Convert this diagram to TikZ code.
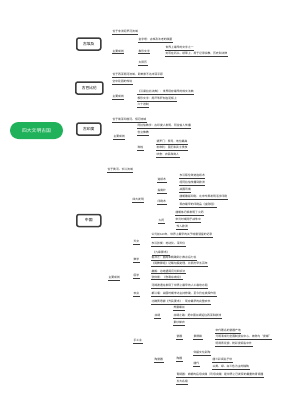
\documentclass[tikz,border=0pt]{standalone}
\usepackage{fontspec}
\setmainfont{Noto Sans CJK SC}
\usetikzlibrary{calc,backgrounds}
\definecolor{rootgreen}{HTML}{1FB25A}
\definecolor{boxline}{HTML}{3C3C3C}
\definecolor{cncol}{HTML}{A8A8A8}
\definecolor{ulcol}{HTML}{3A3A3A}
\tikzset{
 lf/.style={anchor=south west,inner xsep=0.4pt,inner ysep=0.7pt,font=\fontsize{2.8}{3.2}\selectfont,text=black!85},
 ul/.style={draw=ulcol,line width=0.6pt},
 cn/.style={draw=cncol,line width=0.6pt},
 cnmain/.style={draw=cncol!90!black,line width=0.9pt},
 topic/.style={draw=boxline,line width=1.5pt,rounded corners=2pt,fill=white,minimum width=24pt,minimum height=12pt,inner xsep=6pt,font=\fontsize{3.8}{4.3}\selectfont,anchor=west},
 rootnode/.style={fill=rootgreen,rounded corners=8.5pt,minimum width=53pt,minimum height=17pt,text=white,font=\fontsize{4.8}{5.5}\selectfont}
}
\newcommand\mylf[4]{\node[lf] (#1) at (#2,#3) {#4}; \draw[ul] (#1.south west) -- (#1.south east);}
\newcommand\mycx[2]{\draw[cn] let \p1=(#1.south east), \p2=(#2.south west), \n1={(\x2-\x1)/2} in (\p1) .. controls +(\n1,0) and +(-\n1,0) .. (\p2);}
\newcommand\mybx[2]{\draw[cn] let \p1=(#1.east), \p2=(#2.south west), \n1={(\x2-\x1)/2} in (\p1) .. controls +(\n1,0) and +(-\n1,0) .. (\p2);}
\begin{document}
\begin{tikzpicture}[x=1pt,y=-1pt]
\useasboundingbox[fill=white] (0,0) rectangle (300,402);
% root and topics
\node[rootnode] (root) at (36.5,130.5) {四大文明古国};
\node[topic] (egy) at (76,44) {古埃及};
\node[topic] (bab) at (75,88) {古巴比伦};
\node[topic] (ind) at (76,129) {古印度};
\node[topic] (chn) at (76,220.5) {中国};
% Egypt
\mylf{e1}{112}{34}{位于非洲尼罗河流域}
\mylf{e2}{112}{53.5}{主要成就}
\mylf{e21}{138}{42}{金字塔：古埃及法老的陵墓}
\mylf{e22}{138}{53.5}{象形文字}
\mylf{e221}{165}{50}{世界上最早的文字之一}
\mylf{e222}{165}{56}{刻写在石头、纸草上，用于记录宗教、历史和法律}
\mylf{e23}{138}{65}{太阳历}
% Babylon
\mylf{b1}{112}{77}{位于西亚两河流域，即美索不达米亚平原}
\mylf{b2}{112}{84}{空中花园的传说}
\mylf{b3}{112}{99}{主要成就}
\mylf{b31}{137}{94}{《汉谟拉比法典》：世界现存最早的成文法典}
\mylf{b32}{137}{101}{楔形文字：用芦苇秆刻在泥板上}
\mylf{b33}{137}{107}{六十进制}
% India
\mylf{i1}{112}{122}{位于南亚印度河、恒河流域}
\mylf{i2}{113}{139}{主要成就}
\mylf{i21}{137}{128}{阿拉伯数字：古印度人发明，阿拉伯人传播}
\mylf{i22}{137}{135}{创立佛教}
\mylf{i23}{137}{150}{种姓}
\mylf{i231}{156}{144}{婆罗门：祭司，地位最高}
\mylf{i232}{156}{150}{刹帝利：国王和武士贵族}
\mylf{i233}{156}{157}{吠舍：农民和商人}
% China
\mylf{c1}{107}{172}{位于黄河、长江流域}
\mylf{c2}{108}{280}{主要成就}
\mylf{c21}{132}{202}{四大发明}
\mylf{c211}{157}{182}{造纸术}
\mylf{c2111}{179}{178}{东汉蔡伦改进造纸术}
\mylf{c2112}{179}{185}{经阿拉伯传播到欧洲}
\mylf{c212}{157}{193}{指南针}
\mylf{c2121}{179}{192}{战国司南}
\mylf{c213}{157}{204}{印刷术}
\mylf{c2131}{179}{199}{唐朝雕版印刷，北宋毕昇发明活字印刷}
\mylf{c2132}{179}{207}{现存最早的印刷品《金刚经》}
\mylf{c214}{158}{223}{火药}
\mylf{c2141}{175}{215}{唐朝炼丹家发明了火药}
\mylf{c2142}{175}{222}{宋元时期用于战争中}
\mylf{c2143}{176}{229}{传入欧洲}
\mylf{c22}{133}{244}{天文}
\mylf{c221}{151}{237}{公元前613年，世界上最早的关于哈雷彗星的记录}
\mylf{c222}{151}{246}{东汉张衡：地动仪、浑天仪}
\mylf{c23}{133}{262}{数学}
\mylf{c231}{152}{255}{《九章算术》}
\mylf{c232}{151}{260}{祖冲之：圆周率精确到小数点后七位}
\mylf{c233}{151}{266}{《周髀算经》记载勾股定理，比西方早五百年}
\mylf{c24}{133}{278}{医学}
\mylf{c241}{151}{273.5}{扁鹊：总结望闻问切四诊法}
\mylf{c242}{151}{279.5}{张仲景：《伤寒杂病论》}
\mylf{c25}{133}{296}{农业}
\mylf{c251}{151}{288}{河姆渡遗址发现了世界上最早的人工栽培水稻}
\mylf{c252}{151}{296}{都江堰：战国时期李冰主持修建，至今仍在发挥作用}
\mylf{c253}{151}{304}{北魏贾思勰《齐民要术》：现存最早的完整农书}
\mylf{c26}{133}{343}{手工业}
\mylf{c261}{154}{318}{丝绸}
\mylf{c2611}{173}{310}{养蚕缫丝}
\mylf{c2612}{173}{318}{丝绸之路：把中国丝绸运往西亚和欧洲}
\mylf{c2613}{173}{325}{素纱禅衣}
\mylf{c262}{154}{362}{陶瓷器}
\mylf{c2621}{176}{339}{瓷器}
\mylf{c26211}{193}{339}{景德镇}
\mylf{c262111}{215}{333}{宋代著名的瓷器产地}
\mylf{c262112}{215}{339}{元明清成为全国制瓷业中心，被称为“瓷都”}
\mylf{c262113}{215}{346}{明清青花瓷、粉彩瓷闻名中外}
\mylf{c2622}{176}{361}{陶器}
\mylf{c26221}{193}{355}{仰韶文化彩陶}
\mylf{c26222}{193}{366}{唐代}
\mylf{c262221}{212}{362}{唐三彩闻名于世}
\mylf{c262222}{212}{369}{以黄、绿、白三色为主的釉陶}
\mylf{c2623}{176}{377}{青铜器：商朝的后母戊鼎（司母戊鼎）是世界上已发现的最重的青铜器}
\mylf{c2624}{176}{384}{五大名窑}
% connectors
\begin{scope}[on background layer]
\draw[cnmain] ([xshift=15pt]root.center) .. controls +(-2,-70) and +(-18,0) .. (egy.west);
\draw[cnmain] ([xshift=18pt]root.center) .. controls +(2,-34) and +(-13,0) .. (bab.west);
\draw[cnmain] ([xshift=20pt]root.center) .. controls +(8,0) and +(-8,0) .. (ind.west);
\draw[cnmain] ([xshift=15pt]root.center) .. controls +(-2,70) and +(-18,0) .. (chn.west);
\mybx{egy}{e1}\mybx{egy}{e2}
\mycx{e2}{e21}\mycx{e2}{e22}\mycx{e2}{e23}
\mycx{e22}{e221}\mycx{e22}{e222}
\mybx{bab}{b1}\mybx{bab}{b2}\mybx{bab}{b3}
\mycx{b3}{b31}\mycx{b3}{b32}\mycx{b3}{b33}
\mybx{ind}{i1}\mybx{ind}{i2}
\mycx{i2}{i21}\mycx{i2}{i22}\mycx{i2}{i23}
\mycx{i23}{i231}\mycx{i23}{i232}\mycx{i23}{i233}
\mybx{chn}{c1}\mybx{chn}{c2}
\mycx{c2}{c21}\mycx{c2}{c22}\mycx{c2}{c23}\mycx{c2}{c24}\mycx{c2}{c25}\mycx{c2}{c26}
\mycx{c21}{c211}\mycx{c21}{c212}\mycx{c21}{c213}\mycx{c21}{c214}
\mycx{c211}{c2111}\mycx{c211}{c2112}
\mycx{c212}{c2121}
\mycx{c213}{c2131}\mycx{c213}{c2132}
\mycx{c214}{c2141}\mycx{c214}{c2142}\mycx{c214}{c2143}
\mycx{c22}{c221}\mycx{c22}{c222}
\mycx{c23}{c231}\mycx{c23}{c232}\mycx{c23}{c233}
\mycx{c24}{c241}\mycx{c24}{c242}
\mycx{c25}{c251}\mycx{c25}{c252}\mycx{c25}{c253}
\mycx{c26}{c261}\mycx{c26}{c262}
\mycx{c261}{c2611}\mycx{c261}{c2612}\mycx{c261}{c2613}
\mycx{c262}{c2621}\mycx{c262}{c2622}\mycx{c262}{c2623}\mycx{c262}{c2624}
\mycx{c2621}{c26211}
\mycx{c26211}{c262111}\mycx{c26211}{c262112}\mycx{c26211}{c262113}
\mycx{c2622}{c26221}\mycx{c2622}{c26222}
\mycx{c26222}{c262221}\mycx{c26222}{c262222}
\end{scope}
\end{tikzpicture}
\end{document}
